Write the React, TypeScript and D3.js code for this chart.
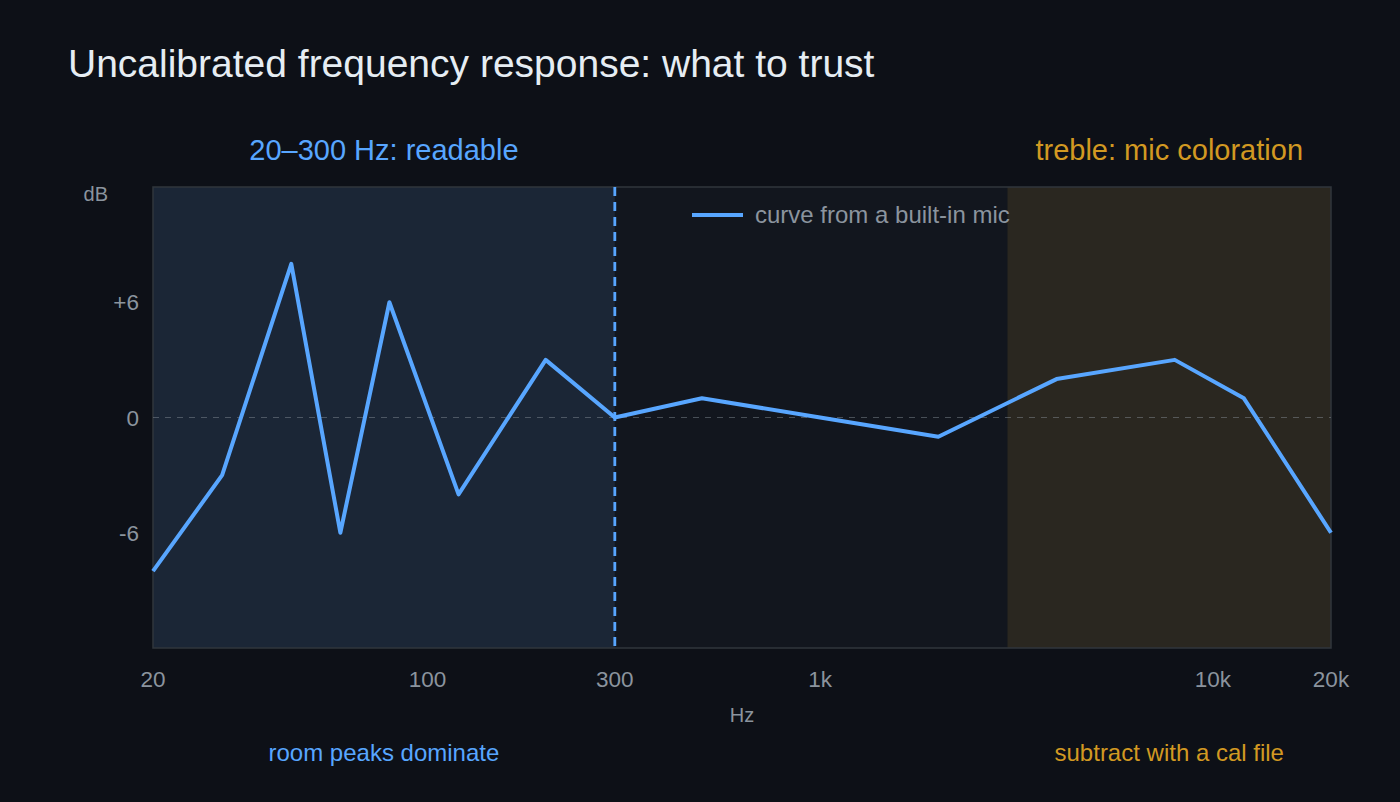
/* eslint-disable */
import React, { useEffect, useRef } from 'react';
import * as d3 from 'd3';

// measured response of a built-in mic (Hz, dB)
const freqs = [20, 30, 45, 60, 80, 120, 200, 300, 500, 1000, 2000, 4000, 8000, 12000, 20000];
const levels = [-8, -3, 8, -6, 6, -4, 3, 0, 1, 0, -1, 2, 3, 1, -6];

const xTicks = [20, 100, 300, 1000, 10000, 20000];
const xTickLabels = ['20', '100', '300', '1k', '10k', '20k'];
const yTicks = [-6, 0, 6];
const yTickLabels = ['-6', '0', '+6'];

const readableBand = [20, 300];
const trebleBand = [3000, 20000];

const FONT = '"Liberation Sans", Arial, sans-serif';

const FrequencyChart = () => {
  const ref = useRef<SVGSVGElement>(null);

  useEffect(() => {
    if (!ref.current) return;
    const svg = d3.select(ref.current);
    svg.selectAll('*').remove();

    const width = 1400;
    const height = 802;
    const margin = { top: 187, right: 69, bottom: 154, left: 153 };

    svg.attr('width', width).attr('height', height).attr('viewBox', `0 0 ${width} ${height}`);

    svg.append('rect').attr('width', width).attr('height', height).attr('fill', '#0d1017');

    // ------- Scales -------
    const x = d3
      .scaleLog()
      .domain([20, 20000])
      .range([margin.left, width - margin.right]);

    const y = d3
      .scaleLinear()
      .domain([-12, 12])
      .range([height - margin.bottom, margin.top]);

    const top = y(12);
    const bottom = y(-12);

    // ------- Plot background + bands -------
    svg
      .append('rect')
      .attr('x', x(20))
      .attr('y', top)
      .attr('width', x(20000) - x(20))
      .attr('height', bottom - top)
      .attr('fill', '#12161e');

    svg
      .append('rect')
      .attr('x', x(readableBand[0]))
      .attr('y', top)
      .attr('width', x(readableBand[1]) - x(readableBand[0]))
      .attr('height', bottom - top)
      .attr('fill', '#1b2636');

    svg
      .append('rect')
      .attr('x', x(trebleBand[0]))
      .attr('y', top)
      .attr('width', x(trebleBand[1]) - x(trebleBand[0]))
      .attr('height', bottom - top)
      .attr('fill', '#2a2720');

    svg
      .append('rect')
      .attr('x', x(20))
      .attr('y', top)
      .attr('width', x(20000) - x(20))
      .attr('height', bottom - top)
      .attr('fill', 'none')
      .attr('stroke', '#30363d')
      .attr('stroke-width', 1.5);

    // ------- Zero line -------
    svg
      .append('line')
      .attr('x1', x(20))
      .attr('x2', x(20000))
      .attr('y1', y(0))
      .attr('y2', y(0))
      .attr('stroke', '#8b949e')
      .attr('stroke-opacity', 0.45)
      .attr('stroke-width', 1.2)
      .attr('stroke-dasharray', '6,6');

    // ------- 300 Hz marker -------
    svg
      .append('line')
      .attr('x1', x(300))
      .attr('x2', x(300))
      .attr('y1', top)
      .attr('y2', bottom)
      .attr('stroke', '#58a6ff')
      .attr('stroke-width', 2.8)
      .attr('stroke-dasharray', '9,6');

    // ------- Axes labels -------
    svg
      .append('g')
      .selectAll('text')
      .data(xTicks)
      .enter()
      .append('text')
      .attr('x', (d) => x(d))
      .attr('y', 687)
      .attr('text-anchor', 'middle')
      .attr('font-family', FONT)
      .attr('font-size', 22.5)
      .attr('fill', '#8b949e')
      .text((d, i) => xTickLabels[i]);

    svg
      .append('g')
      .selectAll('text')
      .data(yTicks)
      .enter()
      .append('text')
      .attr('x', 139)
      .attr('y', (d) => y(d) + 8)
      .attr('text-anchor', 'end')
      .attr('font-family', FONT)
      .attr('font-size', 22.5)
      .attr('fill', '#8b949e')
      .text((d, i) => yTickLabels[i]);

    svg
      .append('text')
      .attr('x', 108)
      .attr('y', 201)
      .attr('text-anchor', 'end')
      .attr('font-family', FONT)
      .attr('font-size', 20)
      .attr('fill', '#8b949e')
      .text('dB');

    svg
      .append('text')
      .attr('x', (x(20) + x(20000)) / 2)
      .attr('y', 722)
      .attr('text-anchor', 'middle')
      .attr('font-family', FONT)
      .attr('font-size', 20)
      .attr('fill', '#8b949e')
      .text('Hz');

    // ------- Line -------
    const points = freqs.map((f, i) => ({ f, db: levels[i] }));
    const line = d3
      .line<{ f: number; db: number }>()
      .x((d) => x(d.f))
      .y((d) => y(d.db));

    svg
      .append('path')
      .datum(points)
      .attr('fill', 'none')
      .attr('stroke', '#58a6ff')
      .attr('stroke-width', 4)
      .attr('stroke-linejoin', 'round')
      .attr('d', line);

    // ------- Legend -------
    svg
      .append('line')
      .attr('x1', 692)
      .attr('x2', 743)
      .attr('y1', 215)
      .attr('y2', 215)
      .attr('stroke', '#58a6ff')
      .attr('stroke-width', 4);

    svg
      .append('text')
      .attr('x', 755)
      .attr('y', 223)
      .attr('font-family', FONT)
      .attr('font-size', 24)
      .attr('fill', '#8b949e')
      .text('curve from a built-in mic');

    // ------- Band annotations -------
    const readableMid = Math.sqrt(readableBand[0] * readableBand[1]);
    const trebleMid = Math.sqrt(trebleBand[0] * trebleBand[1]);

    const note = (fx: number, ty: number, size: number, color: string, label: string) =>
      svg
        .append('text')
        .attr('x', x(fx))
        .attr('y', ty)
        .attr('text-anchor', 'middle')
        .attr('font-family', FONT)
        .attr('font-size', size)
        .attr('fill', color)
        .text(label);

    note(readableMid, 160, 29, '#58a6ff', '20–300 Hz: readable');
    note(trebleMid, 160, 29, '#d29922', 'treble: mic coloration');
    note(readableMid, 761, 24, '#58a6ff', 'room peaks dominate');
    note(trebleMid, 761, 24, '#d29922', 'subtract with a cal file');

    // ------- Title -------
    svg
      .append('text')
      .attr('x', 68)
      .attr('y', 77)
      .attr('font-family', FONT)
      .attr('font-size', 39)
      .attr('fill', '#e6edf3')
      .text('Uncalibrated frequency response: what to trust');
  }, []);

  return <svg ref={ref} style={{ position: 'absolute', left: 0, top: 0, display: 'block' }} />;
};

export default function App() {
  return <FrequencyChart />;
}
